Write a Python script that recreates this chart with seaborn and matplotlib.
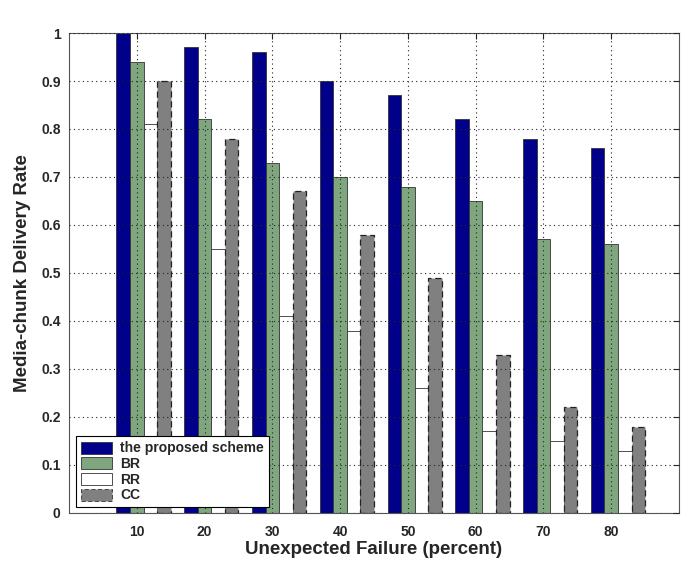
import pandas as pd
import seaborn as sns
import matplotlib.pyplot as plt

sns.set_style("white")
plt.rcParams['font.family'] = ['Liberation Sans', 'DejaVu Sans']

# data
failure = [10, 20, 30, 40, 50, 60, 70, 80]
proposed = [1.00, 0.97, 0.96, 0.90, 0.87, 0.82, 0.78, 0.76]
br = [0.94, 0.82, 0.73, 0.70, 0.68, 0.65, 0.57, 0.56]
rr = [0.81, 0.55, 0.41, 0.38, 0.26, 0.17, 0.15, 0.13]
cc = [0.90, 0.78, 0.67, 0.58, 0.49, 0.33, 0.22, 0.18]
schemes = ['the proposed scheme', 'BR', 'RR', 'CC']
colors = ['#00008b', '#7fa67f', '#ffffff', '#808080']

rows = []
for name, vals in zip(schemes, [proposed, br, rr, cc]):
    for f, v in zip(failure, vals):
        # group of bars in the original sits 1 unit right of the tick
        rows.append({'failure': f + 1, 'rate': v, 'scheme': name})
df = pd.DataFrame(rows)

fig = plt.figure(figsize=(6.85, 5.78), dpi=100)
ax = fig.add_axes([0.1007, 0.1125, 0.8905, 0.8304])

sns.barplot(data=df, x='failure', y='rate', hue='scheme', hue_order=schemes,
            palette=colors, saturation=1, native_scale=True, width=0.8, ax=ax,
            edgecolor='#333333', linewidth=0.6, legend=True)

# dashed outline on the CC bars
for patch in ax.containers[3]:
    patch.set_linestyle((0, (5, 3)))
    patch.set_edgecolor('#222222')
    patch.set_linewidth(0.9)

ax.set_xlim(0, 90)
ax.set_ylim(0, 1)
ax.set_xticks(failure)
ax.set_xticklabels([str(f) for f in failure])
ax.set_yticks([i / 10 for i in range(11)])
ax.set_yticklabels(['0', '0.1', '0.2', '0.3', '0.4', '0.5', '0.6', '0.7', '0.8', '0.9', '1'])
ax.tick_params(direction='in', length=4, width=0.8, top=True, right=True,
               labelsize=10, pad=6)
ax.tick_params(axis='x', pad=9)
for lab in ax.get_xticklabels() + ax.get_yticklabels():
    lab.set_fontweight('bold')

ax.grid(True, linestyle=(0, (1, 3)), color='#222222', linewidth=0.8)
ax.set_axisbelow(False)
for sp in ax.spines.values():
    sp.set_color('#555555')
    sp.set_linewidth(0.8)

ax.set_xlabel('Unexpected Failure (percent)', fontsize=13.5, fontweight='bold', labelpad=1)
ax.set_ylabel('Media-chunk Delivery Rate', fontsize=13.5, fontweight='bold', labelpad=7)

handles, labels = ax.get_legend_handles_labels()
handles[3].set_linestyle((0, (5, 3)))
leg = ax.legend(handles, labels, loc='lower left', bbox_to_anchor=(0.012, 0.012),
                prop={'weight': 'bold', 'size': 10},
                frameon=True, fancybox=False, edgecolor='black', framealpha=1,
                borderaxespad=0, handlelength=2.2, handleheight=0.95,
                labelspacing=0.12, borderpad=0.35, handletextpad=0.6)
leg.get_frame().set_linewidth(0.8)

fig.savefig('out.png', dpi=100)
